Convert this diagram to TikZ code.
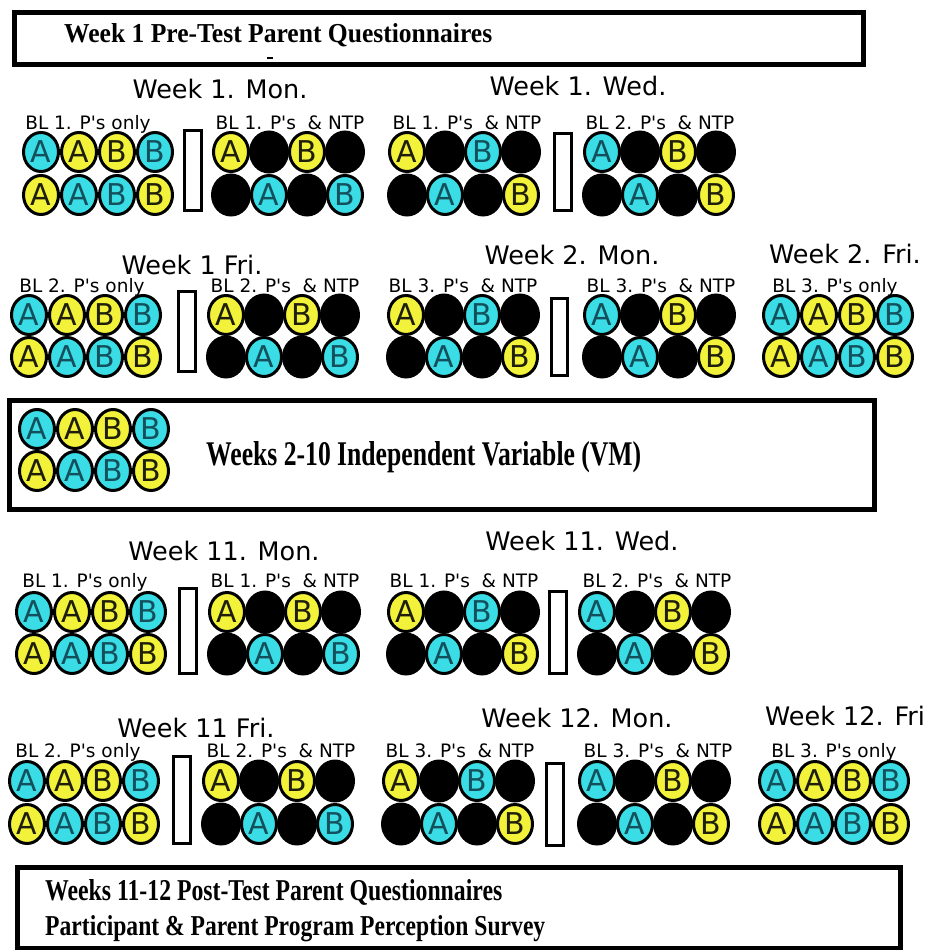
\documentclass[tikz,border=0pt]{standalone}
\usepackage{fontspec}
\setmainfont{DejaVu Sans}
\newfontfamily\titlefont{Liberation Serif}
\usetikzlibrary{shapes.geometric}
\definecolor{ballcyan}{HTML}{3ADDE6}
\definecolor{ballyellow}{HTML}{F2F23A}
\definecolor{lettercyan}{HTML}{14505C}
\definecolor{letteryellow}{HTML}{1E1E0A}
\tikzset{
  ball/.style={ellipse, draw=black, line width=3pt, minimum width=35pt, minimum height=39pt, inner sep=0pt, font=\fontsize{30}{30}\selectfont},
  cb/.style={ball, fill=ballcyan, text=lettercyan},
  yb/.style={ball, fill=ballyellow, text=letteryellow},
  kb/.style={ball, fill=black, minimum width=37pt, minimum height=40pt},
  daytitle/.style={anchor=base, font=\fontsize{25.5}{25.5}\selectfont, inner sep=0pt},
  grplabel/.style={anchor=base, font=\fontsize{18.5}{18.5}\selectfont, inner sep=0pt},
  framebox/.style={draw=black, line width=5pt},
  barbox/.style={draw=black, line width=3pt, fill=white},
  boxtext/.style={anchor=base west, inner sep=0pt},
}
\newcommand\Ps{P\textquotesingle s}
\def\PONLY{cb/A,yb/A,yb/B,cb/B,yb/A,cb/A,cb/B,yb/B}
\def\NTPa{yb/A,kb/{},yb/B,kb/{},kb/{},cb/A,kb/{},cb/B}
\def\NTPb{yb/A,kb/{},cb/B,kb/{},kb/{},cb/A,kb/{},yb/B}
\def\NTPc{cb/A,kb/{},yb/B,kb/{},kb/{},cb/A,kb/{},yb/B}
\newcommand\ballgroup[5]{%
  \foreach \st/\lt [count=\i from 0] in #5 {
    \pgfmathsetmacro\bx{#2+38*mod(\i,4)}
    \pgfmathsetmacro\by{\i<4 ? #3 : #4}
    \node[\st] (#1-\i) at (\bx,\by) {\lt};
  }%
}
\newcommand\boxtxt[3]{\resizebox{#1}{#2}{\titlefont\bfseries #3}}
\begin{document}
\begin{tikzpicture}[x=1pt,y=-1pt]
\useasboundingbox (0,0) rectangle (927,950);
\fill[white] (0,0) rectangle (927,950);
% top frame
\draw[framebox] (14.5,12.5) rectangle (863.5,64.5);
\node[boxtext] (toptext) at (64,43) {\boxtxt{428pt}{19pt}{Week 1 Pre-Test Parent Questionnaires}};
\draw[line width=1.5pt] (267,58) -- (273,58);
% ---------- row 1
\node[daytitle] (t11) at (220,98) {Week 1. Mon.};
\node[daytitle] (t12) at (578,95) {Week 1. Wed.};
\node[grplabel] (l11) at (88,129) {BL 1. \Ps{} only};
\node[grplabel] (l12) at (290,129) {BL 1. \Ps\ \ \& NTP};
\node[grplabel] (l13) at (467,129) {BL 1. \Ps\ \ \& NTP};
\node[grplabel] (l14) at (660,129) {BL 2. \Ps\ \ \& NTP};
\ballgroup{r1a}{41}{152}{195}{\PONLY}
\ballgroup{r1b}{231}{152}{195}{\NTPa}
\ballgroup{r1c}{407}{152}{195}{\NTPb}
\ballgroup{r1d}{602}{152}{195}{\NTPc}
\draw[barbox] (184.5,130.5) rectangle (201.5,210.5);
\draw[barbox] (554.5,133.5) rectangle (571.5,210.5);
% ---------- row 2
\node[daytitle] (t21) at (192,274) {Week 1 Fri.};
\node[daytitle] (t22) at (572,264) {Week 2. Mon.};
\node[daytitle] (t23) at (845,263) {Week 2. Fri.};
\node[grplabel] (l21) at (82,292) {BL 2. \Ps{} only};
\node[grplabel] (l22) at (285,292) {BL 2. \Ps\ \ \& NTP};
\node[grplabel] (l23) at (463,292) {BL 3. \Ps\ \ \& NTP};
\node[grplabel] (l24) at (661,292) {BL 3. \Ps\ \ \& NTP};
\node[grplabel] (l25) at (835,292) {BL 3. \Ps{} only};
\ballgroup{r2a}{29}{315}{357}{\PONLY}
\ballgroup{r2b}{226}{315}{357}{\NTPa}
\ballgroup{r2c}{406}{315}{357}{\NTPb}
\ballgroup{r2d}{602}{315}{357}{\NTPc}
\ballgroup{r2e}{781}{315}{357}{\PONLY}
\draw[barbox] (178.5,291.5) rectangle (195.5,371.5);
\draw[barbox] (551.5,298.5) rectangle (567.5,375.5);
% ---------- middle frame
\draw[framebox] (9.5,400.5) rectangle (874.5,509.5);
\ballgroup{mid}{37}{429}{471}{\PONLY}
\node[boxtext] (midtext) at (206,465) {\boxtxt{435pt}{24pt}{Weeks 2-10 Independent Variable (VM)}};
% ---------- row 3
\node[daytitle] (t31) at (224,560) {Week 11. Mon.};
\node[daytitle] (t32) at (582,550) {Week 11. Wed.};
\node[grplabel] (l31) at (85,587) {BL 1. \Ps{} only};
\node[grplabel] (l32) at (285,587) {BL 1. \Ps\ \ \& NTP};
\node[grplabel] (l33) at (464,587) {BL 1. \Ps\ \ \& NTP};
\node[grplabel] (l34) at (657,587) {BL 2. \Ps\ \ \& NTP};
\ballgroup{r3a}{34}{612}{654}{\PONLY}
\ballgroup{r3b}{227}{612}{654}{\NTPa}
\ballgroup{r3c}{406}{612}{654}{\NTPb}
\ballgroup{r3d}{597}{612}{654}{\NTPc}
\draw[barbox] (179.5,588.5) rectangle (196.5,673.5);
\draw[barbox] (549.5,591.5) rectangle (566.5,673.5);
% ---------- row 4
\node[daytitle] (t41) at (196,737) {Week 11 Fri.};
\node[daytitle] (t42) at (577,727) {Week 12. Mon.};
\node[daytitle, anchor=base west] (t43) at (765,725) {Week 12. Fri};
\node[grplabel] (l41) at (78,757) {BL 2. \Ps{} only};
\node[grplabel] (l42) at (281,757) {BL 2. \Ps\ \ \& NTP};
\node[grplabel] (l43) at (460,757) {BL 3. \Ps\ \ \& NTP};
\node[grplabel] (l44) at (658,757) {BL 3. \Ps\ \ \& NTP};
\node[grplabel] (l45) at (834,757) {BL 3. \Ps{} only};
\ballgroup{r4a}{27}{781}{824}{\PONLY}
\ballgroup{r4b}{221}{781}{824}{\NTPa}
\ballgroup{r4c}{401}{781}{824}{\NTPb}
\ballgroup{r4d}{597}{781}{824}{\NTPc}
\ballgroup{r4e}{777}{781}{824}{\PONLY}
\draw[barbox] (173.5,756.5) rectangle (190.5,843.5);
\draw[barbox] (546.5,763.5) rectangle (563.5,845.5);
% ---------- bottom frame
\draw[framebox] (17.5,867.5) rectangle (900.5,948.5);
\node[boxtext] (bot1) at (45,900) {\boxtxt{457pt}{21pt}{Weeks 11-12 Post-Test Parent Questionnaires}};
\node[boxtext] (bot2) at (45,935) {\boxtxt{500pt}{20pt}{Participant \& Parent Program Perception Survey}};
\end{tikzpicture}
\end{document}
